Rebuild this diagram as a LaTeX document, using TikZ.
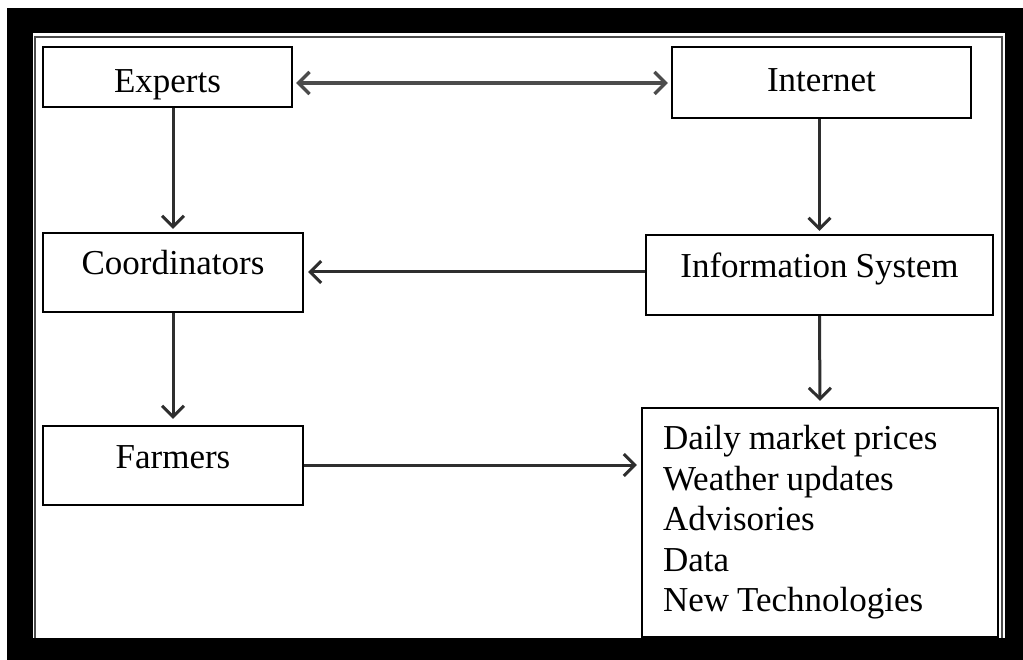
\documentclass[tikz,border=0pt]{standalone}
\usepackage{fontspec}
\setmainfont{Liberation Serif}
\usetikzlibrary{arrows.meta}
\newcommand\boxfontx{\fontsize{35}{40.5}\selectfont\spaceskip=8pt plus 1pt minus 1pt\relax}
\begin{document}
\begin{tikzpicture}[x=1pt,y=-1pt,
  box/.style={draw=black, line width=2.2pt, fill=white, inner xsep=0pt, inner ysep=0pt,
    font=\boxfontx},
  arr/.style={draw=black!82, line width=3pt, -{Straight Barb[length=11pt,width=22pt]}},
  darr/.style={draw=black!70, line width=3.4pt, {Straight Barb[length=11pt,width=22pt]}-{Straight Barb[length=11pt,width=22pt]}}
]
\useasboundingbox (0,0) rectangle (1023,660);
% frame
\fill[black] (7,8) rectangle (1023,660);
\fill[white] (33,33) rectangle (1005,638);
\draw[black!70, line width=1.5pt] (35,638) -- (35,37) -- (1002,37) -- (1002,638);
% boxes
\node[box, minimum width=249pt, text height=46pt, text depth=14pt] (ex) at (167.5,77) {Experts};
\node[box, minimum width=299pt, text height=45pt, text depth=26pt] (in) at (821.5,82.5) {Internet};
\node[box, minimum width=260pt, text height=42pt, text depth=37pt] (co) at (173,272.5) {Coordinators};
\node[box, minimum width=347pt, text height=43pt, text depth=37pt] (is) at (819.5,275) {Information System};
\node[box, minimum width=260pt, text height=42pt, text depth=37pt] (fa) at (173,465.5) {Farmers};
\node[box, minimum height=229pt, text width=314pt, inner xsep=21pt, align=left] (li) at (820,522.5)
  {\boxfontx Daily market prices\\Weather updates\\Advisories\\Data\\New Technologies};
% connectors
\draw[darr, shorten <=3pt, shorten >=3pt] (ex.east |- 0,83) -- (in.west |- 0,83);
\draw[arr, shorten >=3pt] (ex.south -| co.north) -- (co.north);
\draw[arr, shorten >=6pt] (co.south) -- (fa.north);
\draw[arr, shorten >=3pt] (in.south -| is.north) -- (is.north);
\draw[arr, shorten >=4pt] (is.west |- 0,272) -- (co.east |- 0,272);
\draw[arr, shorten >=6pt] (is.south) -- (li.north);
\draw[arr, shorten >=4pt] (fa.east |- 0,465) -- (li.west |- 0,465);
\end{tikzpicture}
\end{document}
